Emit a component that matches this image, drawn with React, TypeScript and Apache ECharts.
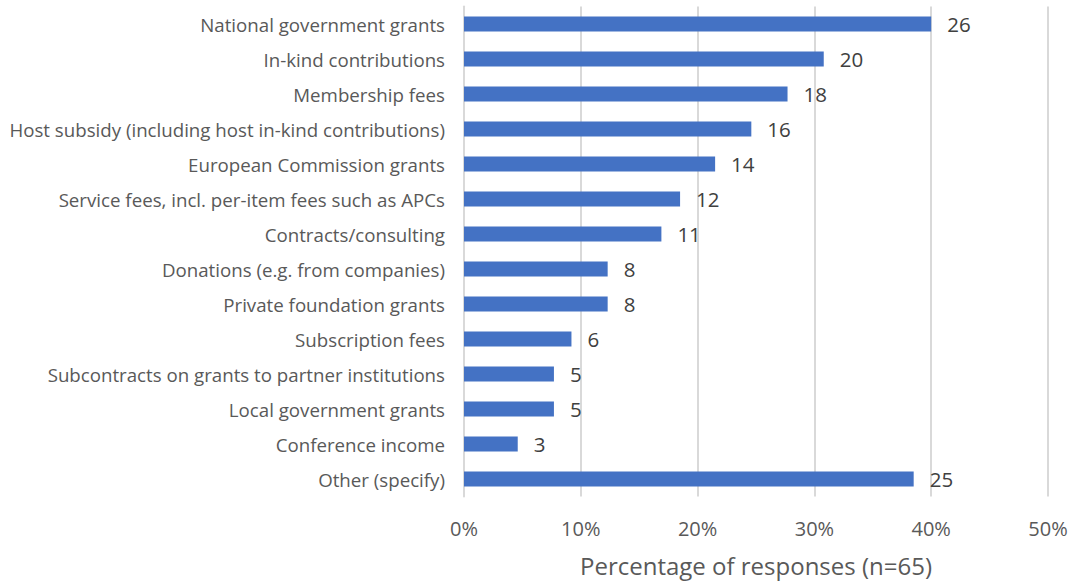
import React, { useEffect, useRef } from "react";
import * as echarts from "echarts";

const categories = [
  "National government grants",
  "In-kind contributions",
  "Membership fees",
  "Host subsidy (including host in-kind contributions)",
  "European Commission grants",
  "Service fees, incl. per-item fees such as APCs",
  "Contracts/consulting",
  "Donations (e.g. from companies)",
  "Private foundation grants",
  "Subscription fees",
  "Subcontracts on grants to partner institutions",
  "Local government grants",
  "Conference income",
  "Other (specify)",
];
const counts = [26, 20, 18, 16, 14, 12, 11, 8, 8, 6, 5, 5, 3, 25];
const percents = [40.0, 30.8, 27.7, 24.6, 21.5, 18.5, 16.9, 12.3, 12.3, 9.2, 7.7, 7.7, 4.6, 38.5];
const xTicks = [0, 10, 20, 30, 40, 50];
const axisTitle = "Percentage of responses (n=65)";

const FONT = "'Open Sans', sans-serif";

export default function App() {
  const ref = useRef<HTMLDivElement>(null);
  useEffect(() => {
    document.body.style.margin = "0";
    const chart = echarts.init(ref.current!, null, { renderer: "svg" });
    const data = percents.map((p, i) => ({ value: p, count: counts[i] }));
    chart.setOption({
      animation: false,
      textStyle: { fontFamily: FONT },
      grid: { left: 464, right: 26, top: 6.5, bottom: 86.5, containLabel: false },
      xAxis: {
        type: "value",
        min: xTicks[0],
        max: xTicks[xTicks.length - 1],
        interval: 10,
        axisLine: { show: false },
        axisTick: { show: false },
        splitLine: { show: true, lineStyle: { color: "#d9d9d9", width: 2 } },
        axisLabel: {
          formatter: (v: number) => v + "%",
          color: "#595959",
          fontSize: 20,
          fontFamily: FONT,
          margin: 22,
        },
        name: axisTitle,
        nameLocation: "middle",
        nameGap: 57,
        nameTextStyle: { color: "#595959", fontSize: 24, fontFamily: FONT },
      },
      yAxis: {
        type: "category",
        data: categories,
        inverse: true,
        axisLine: { show: true, lineStyle: { color: "#d9d9d9", width: 2 } },
        axisTick: { show: false },
        axisLabel: { color: "#595959", fontSize: 18.7, fontFamily: FONT, margin: 19 },
      },
      series: [
        {
          type: "bar",
          data,
          barWidth: 15,
          itemStyle: { color: "#4472C4" },
          label: {
            show: true,
            position: "right",
            distance: 16,
            formatter: (p: any) => String(counts[p.dataIndex]),
            color: "#404040",
            fontSize: 20.5,
            fontFamily: FONT,
          },
        },
      ],
    });
    return () => chart.dispose();
  }, []);
  return <div ref={ref} style={{ width: 1074, height: 583 }} />;
}
